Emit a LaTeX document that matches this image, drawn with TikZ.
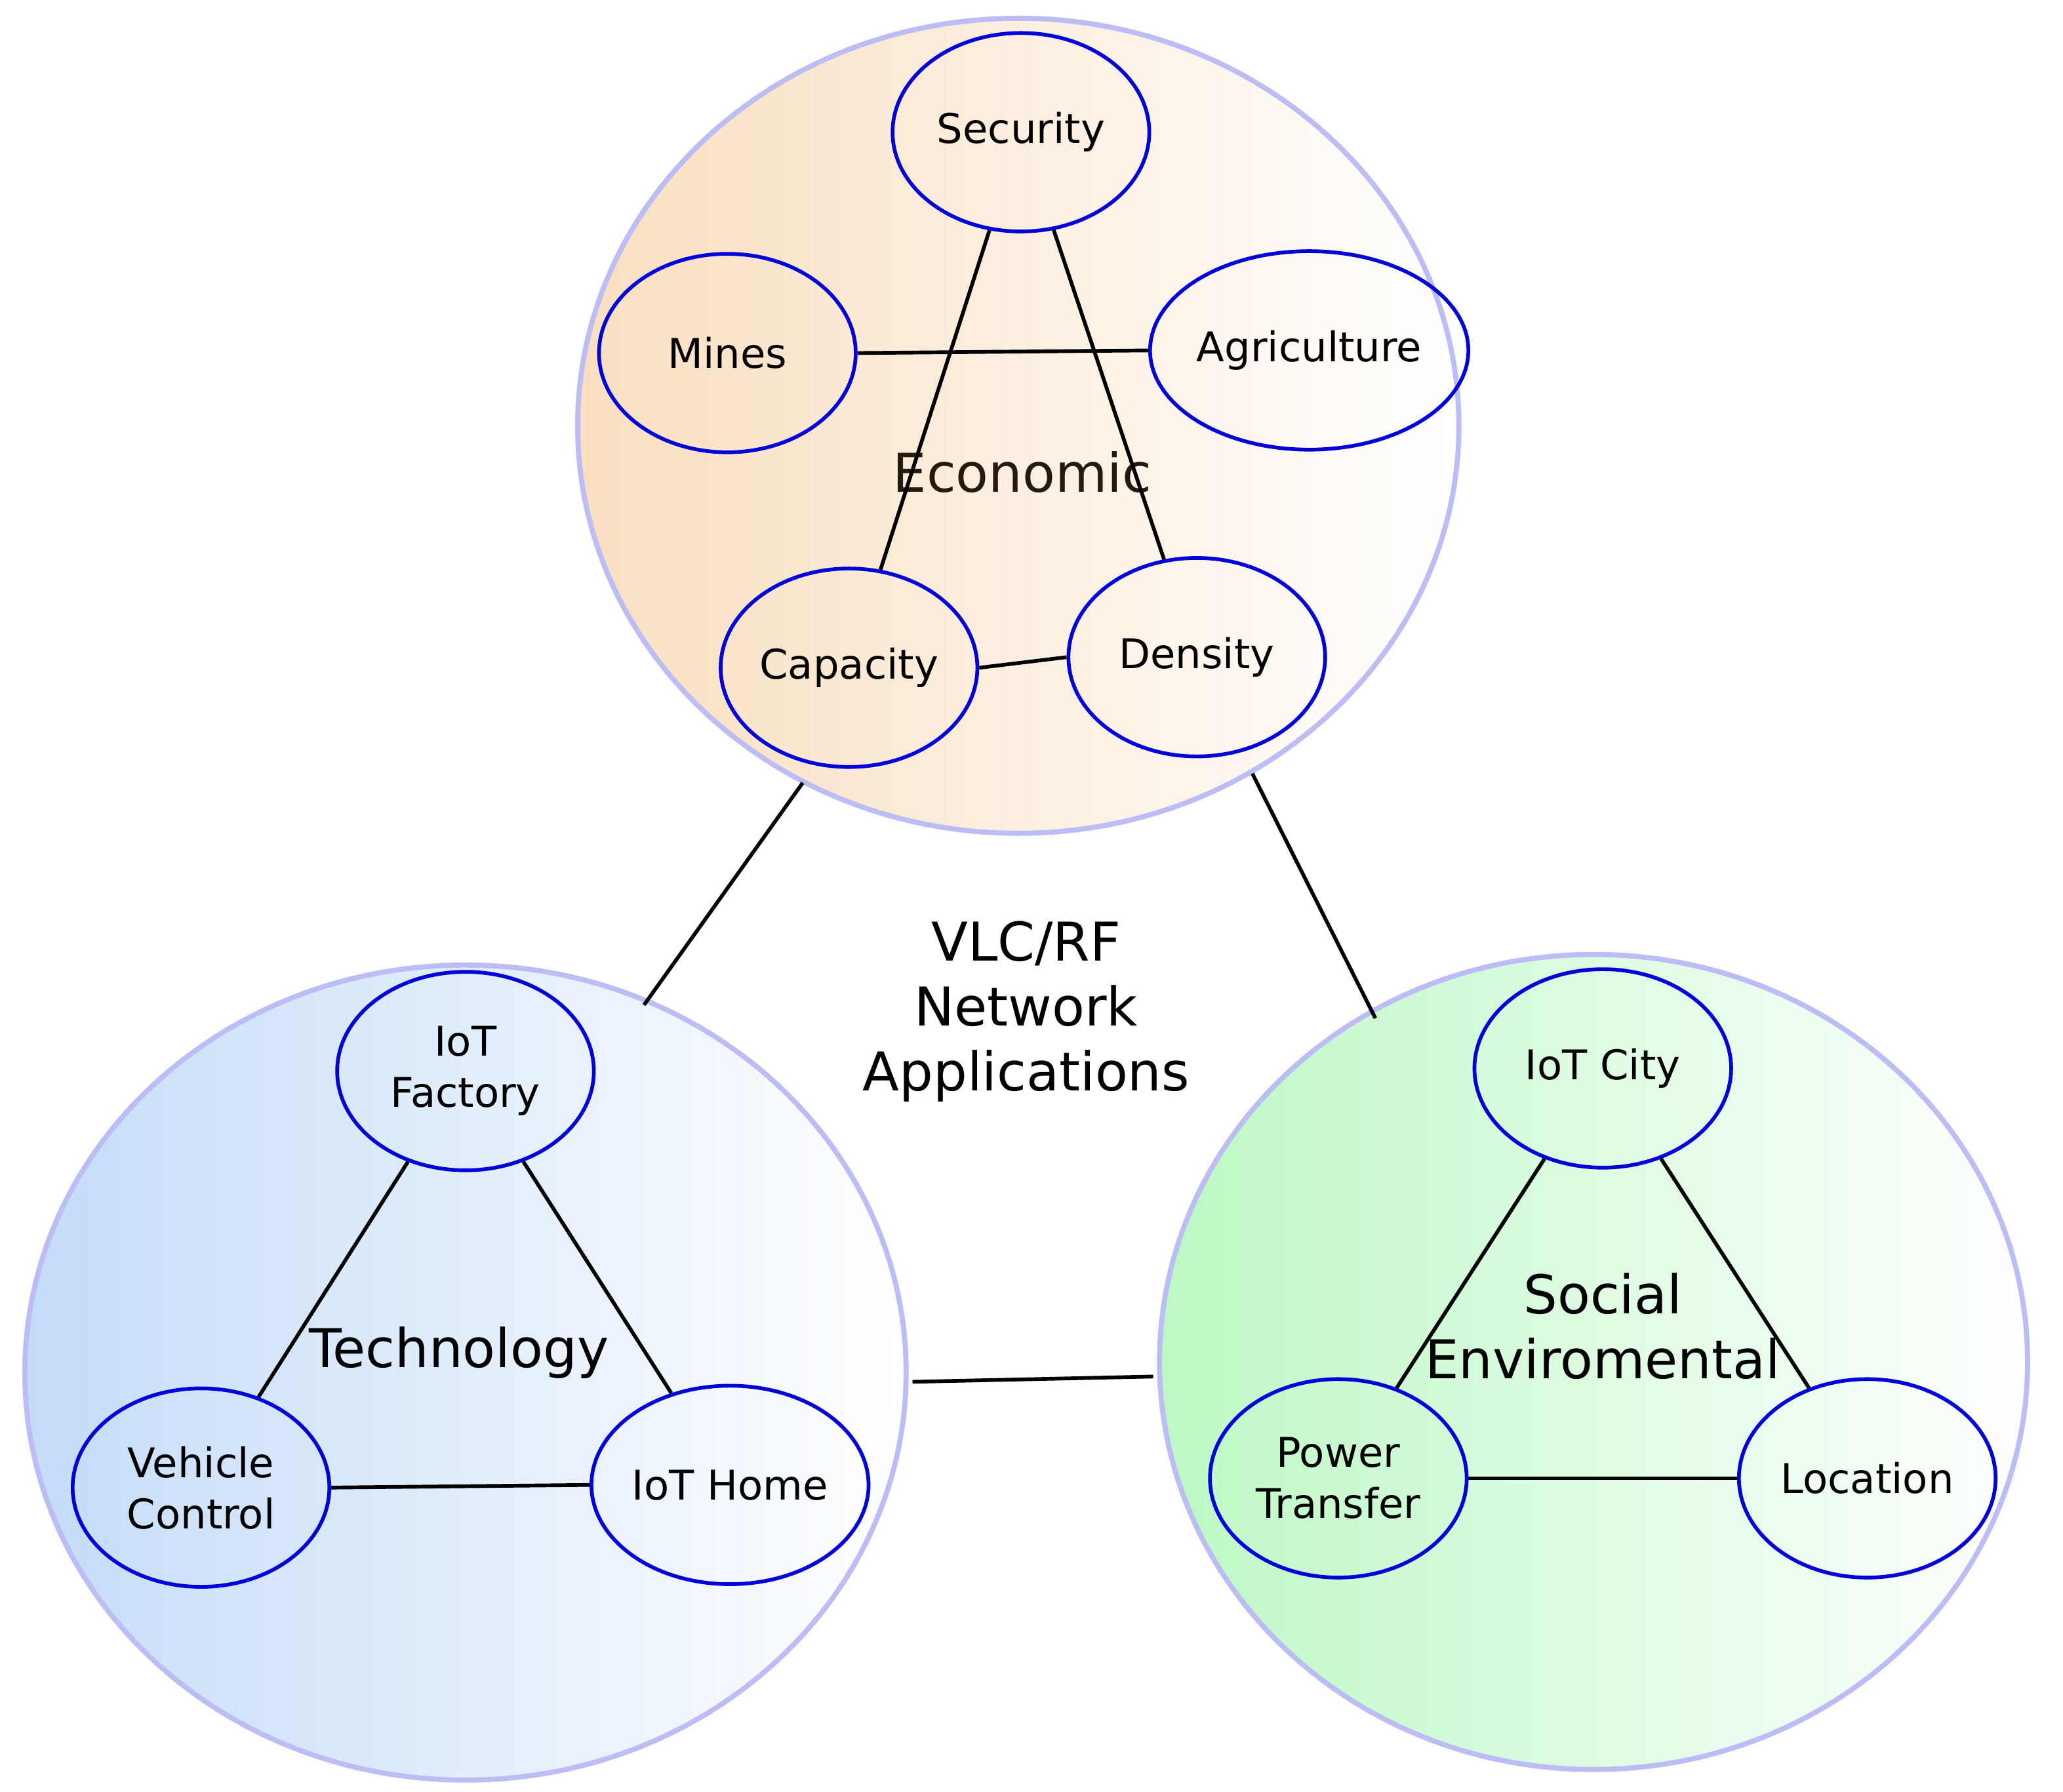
\documentclass[tikz,border=0pt]{standalone}
\usepackage{fontspec}
\setmainfont{DejaVu Sans}
\usetikzlibrary{shapes.geometric}
\definecolor{ringblue}{HTML}{BDBDF5}
\definecolor{econ}{HTML}{F9DFC0}
\definecolor{tech}{HTML}{C4DCF8}
\definecolor{soc}{HTML}{BCF8C4}
\tikzset{
  area/.style={ellipse, draw=ringblue, line width=1.1pt, minimum width=6.66cm, minimum height=6.16cm, inner sep=0pt},
  item/.style={ellipse, draw=blue!85!black, line width=0.8pt, minimum width=1.94cm, minimum height=1.5cm, inner sep=0pt, align=center, font=\fontsize{8.8}{11}\selectfont},
  title/.style={align=center, font=\fontsize{11.5}{14}\selectfont},
  link/.style={line width=0.8pt}
}
\begin{document}
\begin{tikzpicture}[x=0.01cm,y=-0.01cm]
        \useasboundingbox (0,0) rectangle (1560,1355);
        % Big areas
        \node[area, shading=axis, left color=econ, right color=white] (eco) at (770,322) {};
        \node[area, shading=axis, left color=tech, right color=white] (tec) at (352,1038) {};
        \node[area, shading=axis, left color=soc, right color=white, minimum width=6.56cm] (soc) at (1205,1030) {};
        \node[title, text=black!80!brown] (ecot) at (773,357) {Economic};
        \node[title] (tect) at (347,1023) {Technology};
        \node[title] (soct) at (1212,1003) {Social\\Enviromental};
        \node[title] (vlc) at (776,765) {VLC/RF\\Network\\Applications};
        % Economic items
        \node[item] (sec) at (772,100) {Security};
        \node[item] (min) at (550,267) {Mines};
        \node[item] (agr) at (990,265) {Agriculture};
        \node[item] (cap) at (642,505) {Capacity};
        \node[item] (den) at (905,497) {Density};
        % Technology items
        \node[item] (fac) at (352,810) {IoT\\Factory};
        \node[item] (veh) at (152,1125) {Vehicle\\Control};
        \node[item] (hom) at (552,1123) {IoT Home};
        % Social items
        \node[item] (cit) at (1212,808) {IoT City};
        \node[item] (pow) at (1012,1118) {Power\\Transfer};
        \node[item] (loc) at (1412,1118) {Location};
        % Connectors
        \draw[link] (sec) -- (cap);
        \draw[link] (sec) -- (den);
        \draw[link] (min.east) -- (agr.west);
        \draw[link] (cap.east) -- (den.west);
        \draw[link] (fac) -- (veh);
        \draw[link] (fac) -- (hom);
        \draw[link] (veh.east) -- (hom.west);
        \draw[link] (cit) -- (pow);
        \draw[link] (cit) -- (loc);
        \draw[link] (pow.east) -- (loc.west);
        % Links between areas
        \coordinate (e1) at (607,592); \coordinate (t1) at (487,760);
        \coordinate (e2) at (947,585); \coordinate (s1) at (1040,770);
        \coordinate (t2) at (690,1045); \coordinate (s2) at (872,1041);
        \draw[link] (e1) -- (t1);
        \draw[link] (e2) -- (s1);
        \draw[link] (t2) -- (s2);
      \end{tikzpicture}
\end{document}
